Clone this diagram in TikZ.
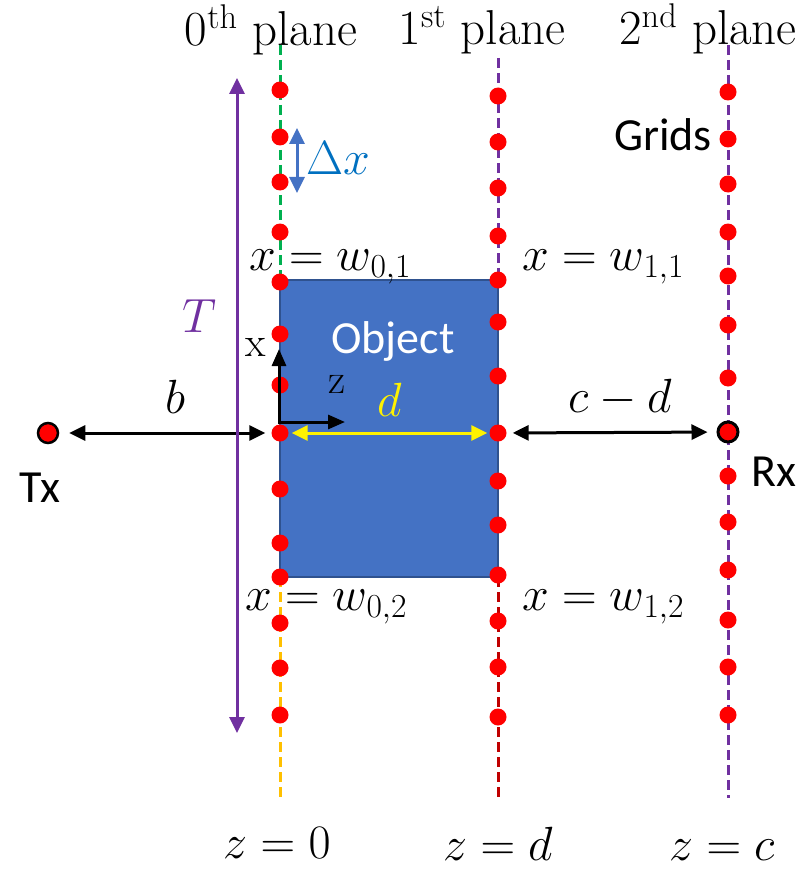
\RequirePackage{fix-cm}
\documentclass[tikz,border=0pt]{standalone}
\usepackage{fontspec}
\newfontfamily\calibri{Carlito}
\usetikzlibrary{arrows.meta}

\definecolor{objblue}{HTML}{4472C4}
\definecolor{objedge}{HTML}{2F528F}
\definecolor{tpurple}{HTML}{7030A0}
\definecolor{dxblue}{HTML}{0070C0}
\definecolor{pgreen}{HTML}{00B050}
\definecolor{porange}{HTML}{FFC000}
\definecolor{pdarkred}{HTML}{C00000}
\definecolor{gridred}{HTML}{FF0000}

\tikzset{
  plane/.style={line width=3pt, dash pattern=on 10pt off 5pt},
  gpt/.style={circle, fill=gridred, inner sep=0pt, minimum size=17pt},
  dimarrow/.style={line width=3pt, {Triangle[length=16pt,width=15pt]}-{Triangle[length=16pt,width=15pt]}},
  titletxt/.style={font=\fontsize{49}{54}\selectfont, inner sep=0pt},
  mathtxt/.style={font=\fontsize{48}{52}\selectfont, inner sep=0pt},
  sanstxt/.style={font=\calibri\fontsize{46}{50}\selectfont, inner sep=0pt},
  axtxt/.style={font=\fontsize{42}{46}\selectfont, inner sep=0pt}
}

\begin{document}
\begin{tikzpicture}[x=1pt, y=-1pt]
    \useasboundingbox (0,0) rectangle (810,869);

    % Plane titles
    \node[titletxt, anchor=base] (title0) at (271,46) {0\textsuperscript{th} plane};
    \node[titletxt, anchor=base] (title1) at (482,45) {1\textsuperscript{st} plane};
    \node[titletxt, anchor=base] (title2) at (708,45) {2\textsuperscript{nd} plane};

    % Dashed planes
    \draw[plane, pgreen] (280,45) -- (280,280);
    \draw[plane, porange] (280,577) -- (280,798);
    \draw[plane, tpurple] (498,58) -- (498,280);
    \draw[plane, pdarkred] (498,577) -- (498,798);
    \draw[plane, tpurple] (728,45) -- (728,798);

    % Object
    \draw[objedge, line width=2pt, fill=objblue] (280,280) rectangle (498,577);
    \node[sanstxt, white] (objlbl) at (393,341) {Object};

    % Grid points on the three planes
    \foreach \y [count=\i] in {90,137,182,232,282,334,385,433,489,543,577,623,668,715}
        \node[gpt] (g0-\i) at (280,\y) {};
    \foreach \y [count=\i] in {96,142,188,236,280,322,376,433,481,525,575,621,667,717}
        \node[gpt] (g1-\i) at (498,\y) {};
    \foreach \y [count=\i] in {92,139,184,232,276,325,378,432,476,522,570,620,667,715}
        \node[gpt] (g2-\i) at (728,\y) {};
    \node[sanstxt] (grids) at (663,135) {Grids};

    % Transmitter and receiver
    \node[circle, draw=black, line width=2.5pt, fill=gridred, inner sep=0pt, minimum size=20pt] (tx) at (48,433) {};
    \node[circle, draw=black, line width=3pt, fill=gridred, inner sep=0pt, minimum size=20pt] (rx) at (728,432) {};
    \node[sanstxt] (txlbl) at (40,488) {Tx};
    \node[sanstxt] (rxlbl) at (774,472) {Rx};

    % Distances
    \draw[dimarrow, shorten <=10pt, shorten >=6pt] (tx) -- (g0-8);
    \node[mathtxt, anchor=base] (blbl) at (175,413) {$b$};
    \draw[dimarrow, yellow, shorten <=3pt, shorten >=2pt] (g0-8) -- (g1-8);
    \node[mathtxt, yellow, anchor=base] (dlbl) at (390,416) {$d$};
    \draw[dimarrow, shorten <=6pt, shorten >=9pt] (g1-8) -- (rx);
    \node[mathtxt, anchor=base] (cdlbl) at (620,412) {$c-d$};

    % Aperture T
    \coordinate (ttop) at (237,78);
    \coordinate (tbot) at (237,733);
    \draw[dimarrow, tpurple] (ttop) -- (tbot);
    \node[mathtxt, tpurple, anchor=base] (tlbl) at (200,332) {$T$};

    % Grid spacing
    \coordinate (dxtop) at (297,128);
    \coordinate (dxbot) at (297,193);
    \draw[dimarrow, objblue] (dxtop) -- (dxbot);
    \node[mathtxt, dxblue, anchor=base] (dxlbl) at (338,175) {$\Delta x$};

    % Local axes
    \coordinate (orig) at (279,422);
    \coordinate (xtip) at (279,349);
    \coordinate (ztip) at (345,422);
    \draw[line width=3pt, line join=miter, {Triangle[length=17pt,width=14pt]}-{Triangle[length=17pt,width=14pt]}] (xtip) -- (orig) -- (ztip);
    \node[axtxt] (xlbl) at (256,347) {x};
    \node[axtxt] (zlbl) at (337,384) {z};

    % Plane boundaries
    \node[mathtxt, anchor=base] (w01) at (330,270) {$x = w_{0,1}$};
    \node[mathtxt, anchor=base] (w11) at (603,270) {$x = w_{1,1}$};
    \node[mathtxt, anchor=base] (w02) at (326,610) {$x = w_{0,2}$};
    \node[mathtxt, anchor=base] (w12) at (603,610) {$x = w_{1,2}$};

    % Plane positions
    \node[mathtxt, anchor=base] (z0) at (277,858) {$z = 0$};
    \node[mathtxt, anchor=base] (zd) at (498,860) {$z = d$};
    \node[mathtxt, anchor=base] (zc) at (722,860) {$z = c$};
\end{tikzpicture}
\end{document}
